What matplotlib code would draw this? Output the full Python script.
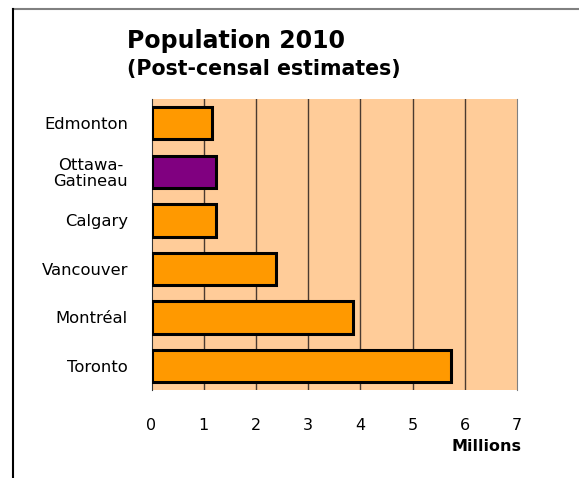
import matplotlib.pyplot as plt
from matplotlib.lines import Line2D

cities = ["Edmonton", "Ottawa-\nGatineau", "Calgary", "Vancouver", "Montréal", "Toronto"]
population = [1.16, 1.24, 1.24, 2.39, 3.86, 5.74]   # millions
colors = ["#FF9900", "#800080", "#FF9900", "#FF9900", "#FF9900", "#FF9900"]
xticks = [0, 1, 2, 3, 4, 5, 6, 7]

plt.rcParams['font.family'] = ['DejaVu Sans']

fig = plt.figure(figsize=(5.79, 4.78), dpi=100)
ax = fig.add_axes([0.2617, 0.184, 0.6313, 0.6089])
ax.set_facecolor("#FFCC99")

ypos = list(range(len(cities)))
ax.barh(ypos, population, height=0.67, color=colors, edgecolor="black", linewidth=2.2, zorder=3)
ax.set_ylim(len(cities) - 0.5, -0.5)
ax.set_xlim(0, 7)
ax.set_yticks(ypos)
ax.set_yticklabels(cities, fontsize=11.8, linespacing=1.1)
ax.set_xticks(xticks)
ax.set_xticklabels([str(t) for t in xticks], fontsize=11.5)
ax.tick_params(axis="both", length=0)
ax.tick_params(axis="x", pad=20)
ax.tick_params(axis="y", pad=17)
for lab in ax.get_yticklabels():
    lab.set_multialignment("center")

for x in xticks[1:-1]:
    ax.axvline(x, color="#4a3a30", linewidth=1, zorder=1)
for s in ["top", "bottom"]:
    ax.spines[s].set_visible(False)
ax.spines["left"].set_color("#333333")
ax.spines["right"].set_color("#808080")

fig.text(0.219, 0.915, "Population 2010", fontsize=17, fontweight="bold", va="center")
fig.text(0.219, 0.855, "(Post-censal estimates)", fontsize=14.8, fontweight="bold", va="center")
fig.text(0.900, 0.065, "Millions", fontsize=11.5, fontweight="bold", ha="right", va="center")

# outer frame
fig.add_artist(Line2D([0.023, 1.0], [0.982, 0.982], transform=fig.transFigure, color="#808080", linewidth=1.5))
fig.add_artist(Line2D([0.023, 0.023], [0.0, 0.982], transform=fig.transFigure, color="black", linewidth=1.5))

fig.savefig("out.png", dpi=100)
